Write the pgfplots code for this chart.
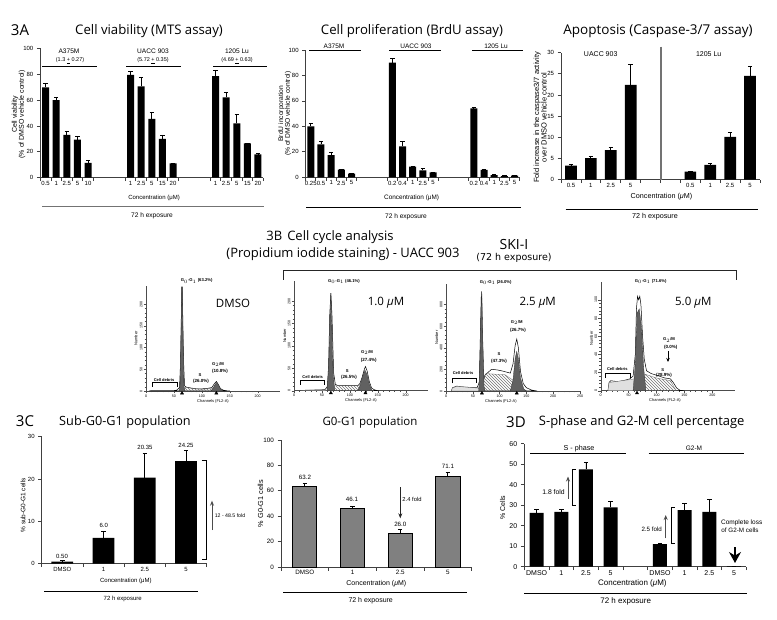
\documentclass[border=0pt]{standalone}
\usepackage{fontspec}
\setmainfont{Liberation Sans}
\newfontfamily\ttl{Open Sans}
\usepackage{pgfplots}
\pgfplotsset{compat=1.18}
\usetikzlibrary{patterns,arrows.meta}
\newcommand{\sz}[1]{\fontsize{#1}{#1}\selectfont}
% everything is placed in reference pixels, y downwards
\newcommand{\lab}[4]{\node[font=\sz{#1}, inner sep=0pt] at (#2,#3) {#4};}
\newcommand{\ttitle}[4]{\node[font=\ttl\sz{#1}, inner sep=0pt] at (#2,#3) {#4};}
\newcommand{\hl}[4]{\draw[line width=#4] (#1,#3) -- (#2,#3);}
\newcommand{\um}{μM}

\pgfplotsset{
  pos/.style 2 args={at={(#1pt,-#2pt)}, anchor=south west},
  barpanel/.style={
    scale only axis, axis lines=left, enlargelimits=false, clip=false,
    ybar, bar shift=0pt,
    axis line style={-, line width=1pt, draw=black!75},
    tick style={line width=0.8pt, draw=black!75},
    major tick length=3.5pt,
    tick pos=left, tick align=outside,
    ymin=0,
    tick label style={font=\sz{6}},
    /pgf/number format/assume math mode=true,
    xticklabels={},
    extra x tick style={major tick length=0pt},
    every axis plot/.append style={fill=black, draw=none},
    xlabel style={font=\sz{6}, anchor=center},
    ylabel style={font=\sz{7}, anchor=center, align=center},
  },
  eb/.style={
    error bars/.cd, y dir=plus, y explicit,
    error bar style={line width=0.9pt, draw=black},
    error mark options={rotate=90, mark size=2.2pt, line width=0.9pt, draw=black},
  },
  hist/.style={
    scale only axis, axis lines=left, enlargelimits=false, clip=false,
    axis line style={-, line width=0.4pt, draw=black!70},
    tick style={line width=0.3pt, draw=black!70},
    major tick length=2.5pt, minor tick length=1.3pt,
    tick pos=left, tick align=outside,
    xmin=0, ymin=0, width=134pt,
    xtick={0,50,...,200}, minor x tick num=4, minor y tick num=4,
    tick label style={font=\sz{3.6}, inner sep=0.8pt},
    yticklabel style={rotate=90},
    /pgf/number format/assume math mode=true,
    xlabel style={font=\sz{4}, anchor=center},
    ylabel style={font=\sz{4}, anchor=center},
    xlabel={Channels (FL2-A)}, ylabel={Number},
  },
  outl/.style={fill=white, draw=black, line width=0.5pt},
  debr/.style={fill=black!12, draw=black!60, line width=0.3pt},
  spart/.style={pattern=north west lines, pattern color=black!55, draw=black!60, line width=0.3pt},
  peak/.style={fill=black!62, draw=black!80, line width=0.3pt},
  tri/.style={only marks, mark=triangle*, mark size=1.8pt, mark options={fill=black, draw=black}},
}

\begin{document}
\begin{tikzpicture}[x=1pt,y=-1pt]
\path[use as bounding box] (0,0) rectangle (777,620);

% ---------- 3A viability
\ttitle{15}{20}{30}{3A}
\ttitle{13.2}{149}{31}{Cell viability (MTS assay)}
\begin{axis}[barpanel, pos={40.3}{177.7},
  width=223pt, height=129.4pt, bar width=7pt,
  xmin=-0.5, xmax=20.5, ymax=100, ytick={0,20,...,100},
  xtick={-0.5,0.5,...,4.5,7.5,8.5,...,12.5,15.5,16.5,...,20.5},
  extra x ticks={0,1,2,3,4,8,9,10,11,12,16,17,18,19,20},
  extra x tick labels={0.5,1,2.5,5,10,1,2.5,5,15,20,1,2.5,5,15,20},
  xlabel={Concentration (\um)}, xlabel style={at={(axis description cs:0.51,-0.155)}},
  ylabel={Cell viability\\(\% of DMSO vehicle control)},
  ylabel style={at={(axis description cs:-0.098,0.49)}},
]
\addplot[eb] coordinates {
  (0,69.8) +- (0,3.1) (1,60) +- (0,1.8) (2,33) +- (0,2.5) (3,29.5) +- (0,2.2) (4,11.5) +- (0,1.6)
  (8,79.5) +- (0,2.5) (9,70.5) +- (0,6.8) (10,45.5) +- (0,4.8) (11,30) +- (0,3) (12,11) +- (0,0.3)
  (16,78.5) +- (0,4.5) (17,62) +- (0,4) (18,42) +- (0,7) (19,26.5) +- (0,0.3) (20,18) +- (0,0.5)};
\end{axis}
\lab{6.6}{69}{51}{A375M}
\lab{5.5}{70}{61}{(1.3 \underline{+} 0.27)}
\lab{6.6}{153}{51}{UACC 903}
\lab{5.5}{153}{61}{(5.72 \underline{+} 0.35)}
\lab{6.6}{237}{51}{1205 Lu}
\lab{5.5}{237}{60.5}{(4.69 \underline{+} 0.63)}
\hl{42}{97}{66}{0.7pt}
\hl{126}{181}{66}{0.7pt}
\hl{213}{267}{66}{0.7pt}
\draw[line width=1.2pt, black!55] (42,206.7) -- (264,206.7);
\lab{6.6}{152}{216}{72 h exposure}

% ---------- 3A proliferation
\ttitle{13.2}{412}{31}{Cell proliferation (BrdU assay)}
\begin{axis}[barpanel, pos={305.7}{177.3},
  width=214pt, height=127.3pt, bar width=7pt,
  xmin=-0.5, xmax=20.5, ymax=100, ytick={0,20,...,100},
  xtick={-0.5,0.5,...,4.5,7.5,8.5,...,12.5,15.5,16.5,...,20.5},
  extra x ticks={0,1,2,3,4,8,9,10,11,12,16,17,18,19,20},
  extra x tick labels={0.25,0.5,1,2.5,5,0.2,0.4,1,2.5,5,0.2,0.4,1,2.5,5},
  xlabel={Concentration (\um)}, xlabel style={font=\sz{6.4}, at={(axis description cs:0.495,-0.163)}},
  ylabel={BrdU incorporation\\(\% of DMSO vehicle control)},
  ylabel style={font=\sz{6.7}, at={(axis description cs:-0.098,0.5)}},
]
\addplot[eb] coordinates {
  (0,40) +- (0,2.4) (1,25.9) +- (0,2.1) (2,17.5) +- (0,1.9) (3,6) +- (0,0.3) (4,2.9) +- (0,0.2)
  (8,90) +- (0,3.5) (9,24.3) +- (0,4.2) (10,8.3) +- (0,0.3) (11,5.5) +- (0,1.3) (12,3.9) +- (0,0.2)
  (16,54.2) +- (0,0.6) (17,5.8) +- (0,0.2) (18,1.8) +- (0,0.3) (19,1) +- (0,0.2) (20,1.3) +- (0,0.3)};
\end{axis}
\lab{6.5}{334}{46}{A375M}
\lab{6.5}{416}{46}{UACC 903}
\lab{6.5}{496}{46}{1205 Lu}
\hl{309}{361}{50}{0.7pt}
\hl{389}{441}{50}{0.7pt}
\hl{472}{523}{50}{0.7pt}
\hl{306}{521}{207}{0.7pt}
\lab{6.6}{406}{217}{72 h exposure}

% ---------- 3A apoptosis
\ttitle{13.5}{658}{31}{Apoptosis (Caspase-3/7 assay)}
\begin{axis}[barpanel, pos={561}{179.7},
  width=199pt, height=127pt, bar width=11.7pt,
  xmin=-0.5, xmax=9.5, ymax=30, ytick={0,5,...,30},
  xtick={-0.5,0.5,...,9.5},
  extra x ticks={0,1,2,3,6,7,8,9},
  extra x tick labels={0.5,1,2.5,5,0.5,1,2.5,5},
  xlabel={Concentration (\textit{μ}M)}, xlabel style={font=\sz{7.2}, at={(axis description cs:0.505,-0.135)}},
  ylabel={Fold increase in the caspase3/7 activity\\over DMSO vehicle control},
  ylabel style={font=\sz{7.5}, at={(axis description cs:-0.105,0.49)}},
]
\addplot[eb] coordinates {
  (0,3.3) +- (0,0.3) (1,5.1) +- (0,0.5) (2,7) +- (0,0.6) (3,22.4) +- (0,4.8)
  (6,1.9) +- (0,0.1) (7,3.5) +- (0,0.3) (8,10.1) +- (0,1.1) (9,24.5) +- (0,2.3)};
\end{axis}
\draw[line width=1.1pt, black!55] (661,46.7) -- (661,180);
\lab{7}{600.7}{54}{UACC 903}
\lab{7}{708.7}{54}{1205 Lu}
\hl{565.7}{758}{209}{0.7pt}
\lab{7.2}{655}{216.7}{72 h exposure}

% ---------- 3B headings
\ttitle{13}{330}{237}{3B\hspace{5pt}Cell cycle analysis}
\ttitle{13}{343}{254}{(Propidium iodide staining) - UACC 903}
\ttitle{14}{514}{244.3}{SKI-I}
\node[font=\fontspec{DejaVu Sans}\sz{9.5}, inner sep=0pt] at (514,258.3) {(72 h exposure)};
\draw[line width=0.8pt, black!85] (283.3,280) -- (283.3,270.3) -- (736.7,270.3) -- (736.7,280);

% ---------- 3B DMSO
\begin{axis}[hist, pos={146}{391}, height=105pt,
  xmax=240, ymax=242, ytick={0,50,...,200},
  xlabel style={at={(axis description cs:0.5,-0.095)}},
  ylabel style={at={(axis description cs:-0.075,0.5)}},
]
\addplot[outl] coordinates {(5,0)(10,1)(50,1)(55,2)(60,8)(62,70)(64,240)(65,240)(67,80)(69,12)(72,9)(80,7)(90,5)(100,5)(110,6)(118,8)(122,16)(126,22)(129,16)(133,6)(138,2)(145,0.5)(150,0)} \closedcycle;
\addplot[spart] coordinates {(62,1)(70,8)(100,4)(118,6)(130,0)} \closedcycle;
\addplot[peak] coordinates {(59,0)(61,10)(63,150)(64.5,238)(66,150)(68,10)(70,0)} \closedcycle;
\addplot[peak] coordinates {(116,0)(120,6)(124,16)(127,20)(130,14)(134,4)(138,0)} \closedcycle;
\addplot[tri] coordinates {(64.5,-5)(126,-5)};
\end{axis}
\lab{4.2}{196.7}{281}{\textbf{G$_0$-G$_1$ (63.2\%)}}
\ttitle{11.5}{233}{303}{DMSO}
\lab{4.2}{218}{364.3}{\textbf{G$_2$/M}}
\lab{4.5}{220}{371}{\textbf{(10.8\%)}}
\lab{4.2}{200}{375}{\textbf{S}}
\lab{4.5}{201}{381}{\textbf{(26.0\%)}}
\lab{4}{164}{380}{\textbf{Cell debris}}
\draw[line width=0.3pt] (152.3,386.7) -- (152.3,382) -- (176.7,382) -- (176.7,386.7);

% ---------- 3B 1.0
\begin{axis}[hist, pos={294}{390.7}, height=109.7pt,
  xmax=240, ymax=245, ytick={0,50,...,200},
  xlabel style={at={(axis description cs:0.5,-0.09)}},
  ylabel style={at={(axis description cs:-0.07,0.5)}},
]
\addplot[outl] coordinates {(12,0)(20,1)(50,2)(56,3)(60,10)(62,60)(64,170)(66,218)(68,170)(71,40)(74,14)(80,11)(100,12)(115,12)(118,16)(122,30)(126,48)(128,54)(131,44)(135,20)(139,6)(144,2)(150,0)} \closedcycle;
\addplot[debr] coordinates {(12,0)(20,1)(55,2)(60,0)} \closedcycle;
\addplot[spart] coordinates {(64,2)(72,11)(100,11)(118,11)(130,2)(135,0)} \closedcycle;
\addplot[peak] coordinates {(59,0)(62,50)(66,218)(70,40)(73,0)} \closedcycle;
\addplot[peak] coordinates {(114,0)(118,10)(122,28)(127,46)(131,36)(135,14)(140,0)} \closedcycle;
\addplot[tri] coordinates {(66,-5)(128,-5)};
\end{axis}
\lab{4.2}{344}{281.7}{\textbf{G$_0$-G$_1$ (46.1\%)}}
\ttitle{11.5}{386}{303}{1.0 \textit{μ}M}
\lab{4.2}{367}{352.7}{\textbf{G$_2$/M}}
\lab{4.5}{368.7}{360}{\textbf{(27.4\%)}}
\lab{4.2}{347.3}{371}{\textbf{S}}
\lab{4.5}{349}{377.7}{\textbf{(26.5\%)}}
\lab{4}{312.7}{376.7}{\textbf{Cell debris}}
\draw[line width=0.3pt] (300,385) -- (300,380) -- (324.3,380) -- (324.3,385);

% ---------- 3B 2.5
\begin{axis}[hist, pos={446}{391}, height=106.7pt,
  xmax=250, ymax=985, ytick={0,200,...,800}, xtick={0,50,...,250},
  xlabel style={at={(axis description cs:0.41,-0.095)}},
  ylabel style={at={(axis description cs:-0.07,0.5)}},
]
\addplot[outl] coordinates {(10,0)(12,30)(20,45)(30,38)(50,32)(58,30)(62,80)(64,500)(66,920)(68,500)(70,100)(73,150)(78,170)(85,200)(95,195)(105,185)(120,165)(125,250)(129,420)(132,480)(135,400)(139,180)(144,70)(150,30)(160,8)(170,0)} \closedcycle;
\addplot[debr] coordinates {(10,0)(12,28)(20,43)(50,30)(60,28)(65,0)} \closedcycle;
\addplot[spart] coordinates {(65,0)(70,130)(75,160)(110,150)(125,100)(135,40)(145,0)} \closedcycle;
\addplot[peak] coordinates {(61,0)(63,200)(65.5,780)(67,900)(68.5,500)(71,40)(73,0)} \closedcycle;
\addplot[peak] coordinates {(120,0)(125,100)(129,300)(132,365)(135,300)(139,120)(145,20)(150,0)} \closedcycle;
\addplot[tri] coordinates {(67,-20)(132,-20)};
\end{axis}
\lab{4.2}{495.7}{282.3}{\textbf{G$_0$-G$_1$ (26.0\%)}}
\ttitle{11.5}{537.7}{303}{2.5 \textit{μ}M}
\lab{4.2}{516.7}{322.3}{\textbf{G$_2$/M}}
\lab{4.5}{518}{330}{\textbf{(26.7\%)}}
\lab{4.2}{499}{354.3}{\textbf{S}}
\lab{4.5}{499}{361}{\textbf{(47.3\%)}}
\lab{4}{463}{373.3}{\textbf{Cell debris}}
\draw[line width=0.3pt] (451.7,383.3) -- (451.7,378.3) -- (476,378.3) -- (476,383.3);

% ---------- 3B 5.0
\begin{axis}[hist, pos={600.7}{390.7}, height=109pt,
  xmax=240, ymax=120, ytick={0,20,...,100},
  xlabel style={at={(axis description cs:0.48,-0.09)}},
  ylabel style={at={(axis description cs:-0.07,0.48)}},
]
\addplot[outl] coordinates {(13,0)(15,9)(18,11)(30,10)(40,11)(52,13)(58,16)(62,40)(64,90)(66,104)(68,100)(70,104)(72,95)(75,60)(78,35)(82,22)(90,19)(100,17)(115,14)(125,13)(130,9)(136,3)(142,0.5)(150,0)} \closedcycle;
\addplot[debr] coordinates {(13,0)(15,9)(50,12)(60,13)(62,0)} \closedcycle;
\addplot[spart] coordinates {(70,0)(80,18)(100,14)(125,11)(135,0)} \closedcycle;
\addplot[peak] coordinates {(58,0)(62,30)(65,85)(69,90)(73,70)(77,25)(81,0)} \closedcycle;
\addplot[tri] coordinates {(65,-2.5)};
\end{axis}
\lab{4.2}{650.7}{281.7}{\textbf{G$_0$-G$_1$ (71.6\%)}}
\ttitle{11.5}{693.3}{303}{5.0 \textit{μ}M}
\lab{4.2}{669}{340}{\textbf{G$_2$/M}}
\lab{4.5}{670.7}{347}{\textbf{(0.0\%)}}
\draw[-{Stealth[length=4pt,width=3.5pt]}, line width=0.7pt] (668,351) -- (668,362);
\lab{4.2}{662.7}{370}{\textbf{S}}
\lab{4.5}{664}{375.7}{\textbf{(28.9\%)}}
\lab{4}{617.3}{369}{\textbf{Cell debris}}
\draw[line width=0.3pt] (605,377.7) -- (605,373.3) -- (630,373.3) -- (630,377.7);

% ---------- 3C sub-G0-G1
\ttitle{15}{25}{421}{3C}
\ttitle{12.7}{125}{422}{Sub-G0-G1 population}
\begin{axis}[barpanel, pos={41.7}{563.7},
  width=165pt, height=127pt, bar width=21.7pt,
  xmin=-0.5, xmax=3.5, ymax=30, ytick={0,10,20,30},
  xtick={-0.5,0.5,...,3.5},
  extra x ticks={0,1,2,3}, extra x tick labels={DMSO,1,2.5,5},
  xlabel={Concentration (\um)}, xlabel style={at={(axis description cs:0.51,-0.135)}},
  ylabel={\% sub-G0-G1 cells},
  ylabel style={font=\sz{6.5}, at={(axis description cs:-0.113,0.46)}},
]
\addplot[eb] coordinates {(0,0.5) +- (0,0.25) (1,6.1) +- (0,1.6) (2,20.35) +- (0,5.65) (3,24.25) +- (0,2.45)};
\addplot[sharp plot, dashed, black, line width=0.5pt, forget plot, fill=none] coordinates {(-0.5,0.7)(3.5,0.7)};
\end{axis}
\lab{6}{62}{556}{0.50}
\lab{6}{103.7}{525}{6.0}
\lab{6}{145}{447.3}{20.35}
\lab{6}{186}{445.3}{24.25}
\draw[line width=0.6pt] (201.7,460) -- (206.7,460) -- (206.7,559.3) -- (201.7,559.3);
\draw[-{Stealth[length=5pt,width=4pt]}, line width=1pt, black!70] (212,530) -- (212,500.7);
\lab{5.2}{230}{515.3}{12 - 48.5 fold}
\hl{44}{198}{591.7}{0.7pt}
\lab{6}{122.7}{598.5}{72 h exposure}

% ---------- 3C G0-G1
\ttitle{11.5}{370}{423}{G0-G1 population}
\begin{axis}[barpanel, pos={281}{567},
  width=190.7pt, height=127pt, bar width=24.3pt,
  xmin=-0.5, xmax=3.5, ymax=100, ytick={0,20,...,100},
  xtick={-0.5,0.5,...,3.5},
  extra x ticks={0,1,2,3}, extra x tick labels={DMSO,1,2.5,5},
  tick label style={font=\sz{6.3}},
  xlabel={Concentration (\textit{μ}M)}, xlabel style={font=\sz{7}, at={(axis description cs:0.5,-0.135)}},
  ylabel={\% G0-G1 cells},
  ylabel style={font=\sz{7.3}, at={(axis description cs:-0.108,0.5)}},
]
\addplot[fill=black!50, draw=black, line width=1pt, eb] coordinates {(0,63.2) +- (0,2.7) (1,46.1) +- (0,1.9) (2,26) +- (0,3.7) (3,71.1) +- (0,3.2)};
\addplot[sharp plot, dashed, black!80, line width=0.7pt, forget plot, fill=none] coordinates {(-0.5,63.2)(3.5,63.2)};
\end{axis}
\lab{6.2}{305}{477.7}{63.2}
\lab{6.2}{352}{499.3}{46.1}
\lab{6.2}{400.3}{524.3}{26.0}
\lab{6.2}{448}{466}{71.1}
\draw[-{Stealth[length=5pt,width=4pt]}, line width=0.7pt, black!85] (400.3,487.3) -- (400.3,518.3);
\lab{5.8}{412}{499.3}{2.4 fold}
\hl{283}{467}{592.3}{0.7pt}
\lab{7}{370.7}{601}{72 h exposure}

% ---------- 3D
\ttitle{15}{516}{421.7}{3D}
\ttitle{13}{641.7}{421.7}{S-phase and G2-M cell percentage}
\begin{axis}[barpanel, pos={524.3}{566.7},
  width=222pt, height=123pt, bar width=14pt,
  xmin=-0.5, xmax=8.5, ymax=60, ytick={0,10,...,60},
  xtick={-0.5,0.5,...,3.5,4.5,5.5,...,8.5},
  extra x ticks={0,1,2,3,5,6,7,8}, extra x tick labels={DMSO,1,2.5,5,DMSO,1,2.5,5},
  tick label style={font=\sz{7}},
  xlabel={Concentration (\textit{μ}M)}, xlabel style={font=\sz{8}, at={(axis description cs:0.487,-0.14)}},
  ylabel={\% Cells}, ylabel style={font=\sz{7}, at={(axis description cs:-0.098,0.48)}},
]
\addplot[eb] coordinates {(0,26.2) +- (0,1.8) (1,26.8) +- (0,1.2) (2,47.5) +- (0,3.5) (3,29) +- (0,2.9)
  (5,11) +- (0,0.2) (6,27.6) +- (0,3.4) (7,26.8) +- (0,6.2) (8,0.3) +- (0,0)};
\end{axis}
\lab{7.2}{579}{448.3}{S - phase}
\lab{6.5}{694}{448.3}{G2-M}
\hl{530}{625.7}{453.7}{0.7pt}
\hl{648.7}{744}{453.7}{0.7pt}
\draw[line width=0.6pt] (576,469) -- (572.5,469) -- (572.5,505) -- (576,505);
\draw[-{Stealth[length=5pt,width=4pt]}, line width=1pt, black!70] (568,498.5) -- (568,476.5);
\lab{6.8}{553.5}{492}{1.8 fold}
\draw[line width=0.6pt] (674.5,507.7) -- (671.5,507.7) -- (671.5,543.7) -- (674.5,543.7);
\draw[-{Stealth[length=5pt,width=4pt]}, line width=1pt, black!70] (665.7,538.3) -- (665.7,515);
\lab{6.2}{651.7}{529.3}{2.5 fold}
\lab{6.5}{741.7}{522.7}{Complete loss}
\lab{6.3}{740}{530.3}{of G2-M cells}
\draw[-{Stealth[length=11pt,width=12pt]}, line width=1.2pt] (735,547.3) -- (735,563);
\hl{524.3}{746.7}{593.3}{0.7pt}
\lab{8}{625.7}{601}{72 h exposure}
\end{tikzpicture}
\end{document}
